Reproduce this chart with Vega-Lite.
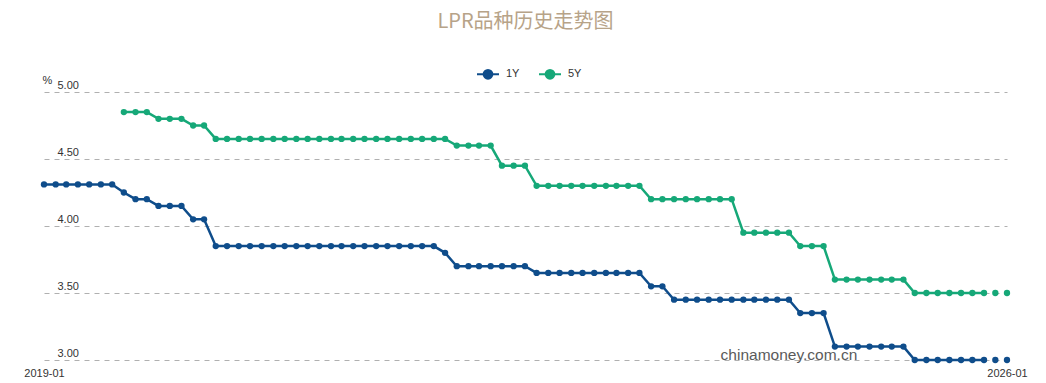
{
  "$schema": "https://vega.github.io/schema/vega-lite/v6.json",
  "width": 963,
  "height": 268,
  "autosize": "none",
  "padding": {"left": 44, "top": 92, "right": 39, "bottom": 23},
  "background": "white",
  "title": {
    "text": "LPR品种历史走势图",
    "anchor": "middle",
    "font": "Noto Sans CJK SC",
    "fontSize": 20,
    "fontWeight": "normal",
    "color": "#b7a388",
    "baseline": "bottom",
    "offset": 10
  },
  "config": {
    "view": {"stroke": null},
    "font": "Liberation Sans"
  },
  "datasets": {
    "lpr": [
      {"m": "2019-01-01", "1Y": 4.31},
      {"m": "2019-02-01", "1Y": 4.31},
      {"m": "2019-03-01", "1Y": 4.31},
      {"m": "2019-04-01", "1Y": 4.31},
      {"m": "2019-05-01", "1Y": 4.31},
      {"m": "2019-06-01", "1Y": 4.31},
      {"m": "2019-07-01", "1Y": 4.31},
      {"m": "2019-08-01", "1Y": 4.25, "5Y": 4.85},
      {"m": "2019-09-01", "1Y": 4.20, "5Y": 4.85},
      {"m": "2019-10-01", "1Y": 4.20, "5Y": 4.85},
      {"m": "2019-11-01", "1Y": 4.15, "5Y": 4.80},
      {"m": "2019-12-01", "1Y": 4.15, "5Y": 4.80},
      {"m": "2020-01-01", "1Y": 4.15, "5Y": 4.80},
      {"m": "2020-02-01", "1Y": 4.05, "5Y": 4.75},
      {"m": "2020-03-01", "1Y": 4.05, "5Y": 4.75},
      {"m": "2020-04-01", "1Y": 3.85, "5Y": 4.65},
      {"m": "2020-05-01", "1Y": 3.85, "5Y": 4.65},
      {"m": "2020-06-01", "1Y": 3.85, "5Y": 4.65},
      {"m": "2020-07-01", "1Y": 3.85, "5Y": 4.65},
      {"m": "2020-08-01", "1Y": 3.85, "5Y": 4.65},
      {"m": "2020-09-01", "1Y": 3.85, "5Y": 4.65},
      {"m": "2020-10-01", "1Y": 3.85, "5Y": 4.65},
      {"m": "2020-11-01", "1Y": 3.85, "5Y": 4.65},
      {"m": "2020-12-01", "1Y": 3.85, "5Y": 4.65},
      {"m": "2021-01-01", "1Y": 3.85, "5Y": 4.65},
      {"m": "2021-02-01", "1Y": 3.85, "5Y": 4.65},
      {"m": "2021-03-01", "1Y": 3.85, "5Y": 4.65},
      {"m": "2021-04-01", "1Y": 3.85, "5Y": 4.65},
      {"m": "2021-05-01", "1Y": 3.85, "5Y": 4.65},
      {"m": "2021-06-01", "1Y": 3.85, "5Y": 4.65},
      {"m": "2021-07-01", "1Y": 3.85, "5Y": 4.65},
      {"m": "2021-08-01", "1Y": 3.85, "5Y": 4.65},
      {"m": "2021-09-01", "1Y": 3.85, "5Y": 4.65},
      {"m": "2021-10-01", "1Y": 3.85, "5Y": 4.65},
      {"m": "2021-11-01", "1Y": 3.85, "5Y": 4.65},
      {"m": "2021-12-01", "1Y": 3.80, "5Y": 4.65},
      {"m": "2022-01-01", "1Y": 3.70, "5Y": 4.60},
      {"m": "2022-02-01", "1Y": 3.70, "5Y": 4.60},
      {"m": "2022-03-01", "1Y": 3.70, "5Y": 4.60},
      {"m": "2022-04-01", "1Y": 3.70, "5Y": 4.60},
      {"m": "2022-05-01", "1Y": 3.70, "5Y": 4.45},
      {"m": "2022-06-01", "1Y": 3.70, "5Y": 4.45},
      {"m": "2022-07-01", "1Y": 3.70, "5Y": 4.45},
      {"m": "2022-08-01", "1Y": 3.65, "5Y": 4.30},
      {"m": "2022-09-01", "1Y": 3.65, "5Y": 4.30},
      {"m": "2022-10-01", "1Y": 3.65, "5Y": 4.30},
      {"m": "2022-11-01", "1Y": 3.65, "5Y": 4.30},
      {"m": "2022-12-01", "1Y": 3.65, "5Y": 4.30},
      {"m": "2023-01-01", "1Y": 3.65, "5Y": 4.30},
      {"m": "2023-02-01", "1Y": 3.65, "5Y": 4.30},
      {"m": "2023-03-01", "1Y": 3.65, "5Y": 4.30},
      {"m": "2023-04-01", "1Y": 3.65, "5Y": 4.30},
      {"m": "2023-05-01", "1Y": 3.65, "5Y": 4.30},
      {"m": "2023-06-01", "1Y": 3.55, "5Y": 4.20},
      {"m": "2023-07-01", "1Y": 3.55, "5Y": 4.20},
      {"m": "2023-08-01", "1Y": 3.45, "5Y": 4.20},
      {"m": "2023-09-01", "1Y": 3.45, "5Y": 4.20},
      {"m": "2023-10-01", "1Y": 3.45, "5Y": 4.20},
      {"m": "2023-11-01", "1Y": 3.45, "5Y": 4.20},
      {"m": "2023-12-01", "1Y": 3.45, "5Y": 4.20},
      {"m": "2024-01-01", "1Y": 3.45, "5Y": 4.20},
      {"m": "2024-02-01", "1Y": 3.45, "5Y": 3.95},
      {"m": "2024-03-01", "1Y": 3.45, "5Y": 3.95},
      {"m": "2024-04-01", "1Y": 3.45, "5Y": 3.95},
      {"m": "2024-05-01", "1Y": 3.45, "5Y": 3.95},
      {"m": "2024-06-01", "1Y": 3.45, "5Y": 3.95},
      {"m": "2024-07-01", "1Y": 3.35, "5Y": 3.85},
      {"m": "2024-08-01", "1Y": 3.35, "5Y": 3.85},
      {"m": "2024-09-01", "1Y": 3.35, "5Y": 3.85},
      {"m": "2024-10-01", "1Y": 3.10, "5Y": 3.60},
      {"m": "2024-11-01", "1Y": 3.10, "5Y": 3.60},
      {"m": "2024-12-01", "1Y": 3.10, "5Y": 3.60},
      {"m": "2025-01-01", "1Y": 3.10, "5Y": 3.60},
      {"m": "2025-02-01", "1Y": 3.10, "5Y": 3.60},
      {"m": "2025-03-01", "1Y": 3.10, "5Y": 3.60},
      {"m": "2025-04-01", "1Y": 3.10, "5Y": 3.60},
      {"m": "2025-05-01", "1Y": 3.00, "5Y": 3.50},
      {"m": "2025-06-01", "1Y": 3.00, "5Y": 3.50},
      {"m": "2025-07-01", "1Y": 3.00, "5Y": 3.50},
      {"m": "2025-08-01", "1Y": 3.00, "5Y": 3.50},
      {"m": "2025-09-01", "1Y": 3.00, "5Y": 3.50},
      {"m": "2025-10-01", "1Y": 3.00, "5Y": 3.50},
      {"m": "2025-11-01", "1Y": 3.00, "5Y": 3.50},
      {"m": "2025-12-01", "1Y": 3.00, "5Y": 3.50},
      {"m": "2026-01-01", "1Y": 3.00, "5Y": 3.50}
    ],
    "wm": [{"m": "2024-06-20", "v": 2.98, "label": "chinamoney.com.cn"}]
  },
  "data": {"name": "lpr"},
  "encoding": {
    "x": {
      "field": "m",
      "timeUnit": "utcyearmonth",
      "type": "temporal",
      "scale": {"domain": [{"year": 2019, "month": 1, "date": 1, "utc": true}, {"year": 2026, "month": 1, "date": 1, "utc": true}]},
      "axis": {
        "title": null,
        "values": [{"year": 2019, "month": 1, "date": 1, "utc": true}, {"year": 2026, "month": 1, "date": 1, "utc": true}],
        "format": "%Y-%m",
        "labelFlush": false,
        "labelFontSize": 11,
        "labelColor": "#333333",
        "labelPadding": 7,
        "domain": false,
        "ticks": false,
        "grid": false
      }
    },
    "y": {
      "field": "v",
      "type": "quantitative",
      "scale": {"domain": [3, 5], "nice": false, "zero": false},
      "axis": {
        "title": "%",
        "titleAngle": 0,
        "titleAlign": "left",
        "titleBaseline": "bottom",
        "titleX": -2,
        "titleY": -7,
        "titleFontSize": 11,
        "titleFontWeight": "normal",
        "titleColor": "#333333",
        "values": [3, 3.5, 4, 4.5, 5],
        "format": ".2f",
        "labelAlign": "left",
        "labelBaseline": "bottom",
        "labelPadding": -13,
        "labelOffset": -2,
        "labelFontSize": 11,
        "labelColor": "#333333",
        "domain": false,
        "ticks": false,
        "tickSize": 0,
        "grid": true,
        "gridColor": "#b0b0b0",
        "gridDash": [5, 5],
        "gridWidth": 1
      }
    },
    "color": {
      "field": "t",
      "type": "nominal",
      "scale": {"domain": ["1Y", "5Y"], "range": ["#0f4d8b", "#16a878"]},
      "legend": {
        "title": null,
        "orient": "none",
        "direction": "horizontal",
        "legendX": 432,
        "legendY": -30,
        "padding": 0,
        "symbolType": "M-1,0L1,0M-0.4,0A0.4,0.4,0,1,0,0.4,0A0.4,0.4,0,1,0,-0.4,0",
        "symbolSize": 484,
        "symbolStrokeWidth": 2,
        "labelFontSize": 11,
        "labelColor": "#333333",
        "labelOffset": 6,
        "columnPadding": 15,
        "encode": {
          "symbols": {
            "update": {
              "fill": {"scale": "color", "field": "value"},
              "stroke": {"scale": "color", "field": "value"},
              "strokeWidth": {"value": 2},
              "opacity": {"value": 1}
            }
          }
        }
      }
    }
  },
  "layer": [
    {
      "transform": [
        {"fold": ["1Y", "5Y"], "as": ["t", "v"]},
        {"filter": "isValid(datum.v)"},
        {"filter": "+toDate(datum.m) <= utc(2025, 10, 1)"}
      ],
      "mark": {"type": "line", "strokeWidth": 2.5, "interpolate": "linear"}
    },
    {
      "transform": [
        {"fold": ["1Y", "5Y"], "as": ["t", "v"]},
        {"filter": "isValid(datum.v)"}
      ],
      "mark": {"type": "point", "filled": true, "size": 40, "opacity": 1, "shape": "circle"}
    },
    {
      "data": {"name": "wm"},
      "mark": {"type": "text", "fontSize": 15.5, "font": "Liberation Sans", "baseline": "bottom", "align": "center", "color": "#5a5a5a"},
      "encoding": {
        "x": {"field": "m", "type": "temporal"},
        "y": {"field": "v", "type": "quantitative"},
        "text": {"field": "label", "type": "nominal"},
        "color": {"value": "#5a5a5a"}
      }
    }
  ]
}
